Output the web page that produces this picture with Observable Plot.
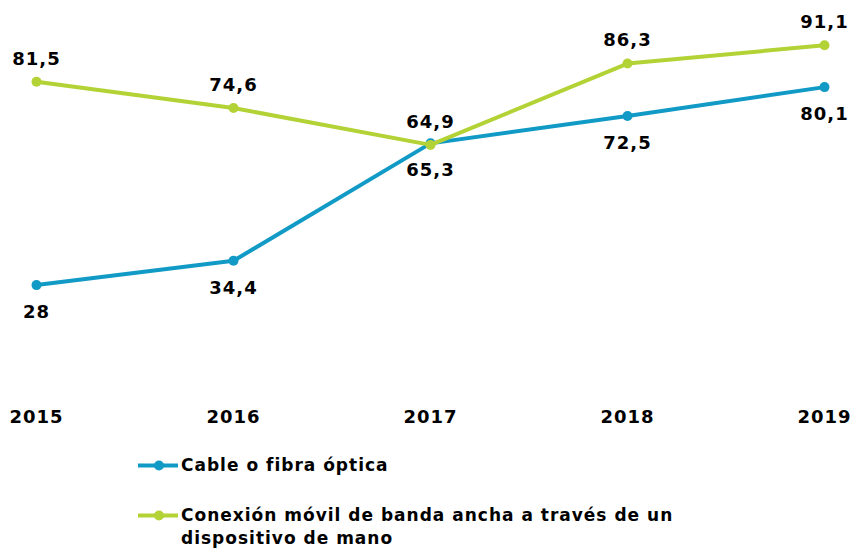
<!DOCTYPE html>
<html>
<head>
<meta charset="utf-8">
<script src="https://cdn.jsdelivr.net/npm/d3@7"></script>
<script src="https://cdn.jsdelivr.net/npm/@observablehq/plot@0.6"></script>
<style>
  html, body { margin: 0; padding: 0; background: #fff; }
  body { width: 853px; height: 548px; overflow: hidden; font-family: "DejaVu Sans", Verdana, sans-serif; font-weight: bold; }
  #wrap { position: relative; width: 853px; height: 548px; }
  .leg { position: absolute; left: 138px; display: flex; align-items: flex-start; }
  .leg svg { flex: none; }
  .leg span { font-size: 17px; letter-spacing: 1px; line-height: 23px; color: #000; margin-left: 3px; width: 540px; }
  svg text { letter-spacing: 1px; }
</style>
</head>
<body>
<div id="wrap"></div>
<script>
const years = ["2015", "2016", "2017", "2018", "2019"];
const cableValues = [28, 34.4, 65.3, 72.5, 80.1];
const movilValues = [81.5, 74.6, 64.9, 86.3, 91.1];
const seriesNames = ["Cable o fibra óptica", "Conexión móvil de banda ancha a través de un dispositivo de mano"];
const colors = ["#109ac5", "#b3d235"];

const fmt = v => String(v).replace(".", ",");
const cable = years.map((y, i) => ({year: y, value: cableValues[i]}));
const movil = years.map((y, i) => ({year: y, value: movilValues[i]}));

const chart = Plot.plot({
  width: 853,
  height: 440,
  marginTop: 11,
  marginBottom: 49,
  marginLeft: 36,
  marginRight: 29,
  style: {fontFamily: "'DejaVu Sans', Verdana, sans-serif", fontWeight: "bold", background: "#fff"},
  x: {type: "point", domain: years, padding: 0},
  y: {domain: [0, 100], axis: null},
  marks: [
    Plot.axisX({tickSize: 0, tickPadding: 19, fontSize: 18, fill: "#000", label: null}),
    Plot.line(cable, {x: "year", y: "value", stroke: colors[0], strokeWidth: 4}),
    Plot.dot(cable, {x: "year", y: "value", fill: colors[0], r: 5}),
    Plot.line(movil, {x: "year", y: "value", stroke: colors[1], strokeWidth: 4}),
    Plot.dot(movil, {x: "year", y: "value", fill: colors[1], r: 5}),
    Plot.text(cable, {x: "year", y: "value", text: d => fmt(d.value), dy: 27, fontSize: 18, fill: "#000"}),
    Plot.text(movil, {x: "year", y: "value", text: d => fmt(d.value), dy: -23, fontSize: 18, fill: "#000"})
  ]
});
const wrap = document.getElementById("wrap");
chart.style.display = "block";
wrap.appendChild(chart);

const legTops = [454, 504];
seriesNames.forEach((name, i) => {
  const div = document.createElement("div");
  div.className = "leg";
  div.style.top = legTops[i] + "px";
  div.innerHTML = `<svg width="40" height="23"><line x1="0" x2="40" y1="11.5" y2="11.5" stroke="${colors[i]}" stroke-width="4"/><circle cx="21" cy="11.5" r="5" fill="${colors[i]}"/></svg><span>${name}</span>`;
  wrap.appendChild(div);
});
</script>
</body>
</html>
